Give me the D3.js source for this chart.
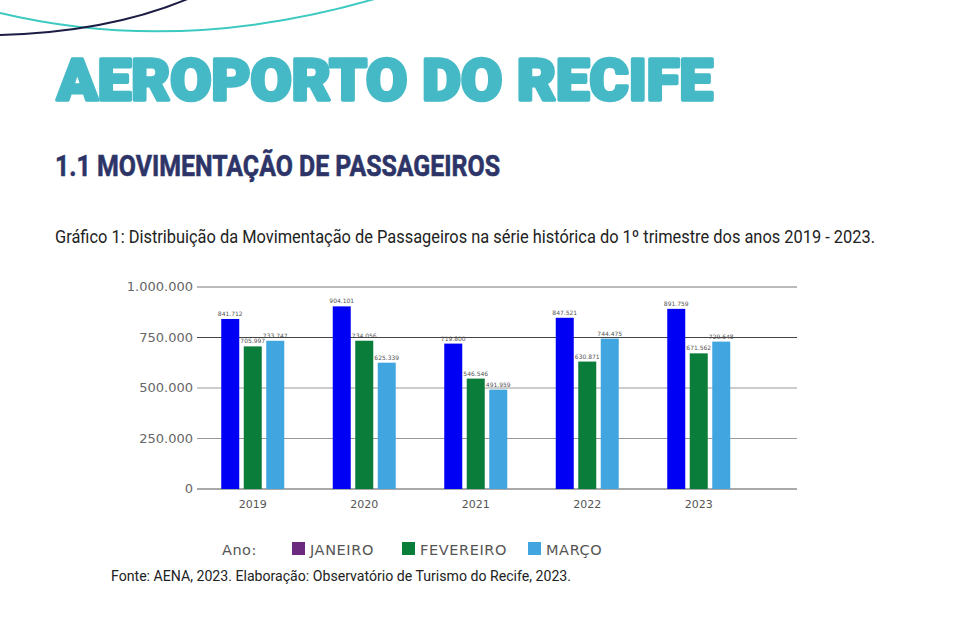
<script src="https://d3js.org/d3.v7.min.js"></script>
<style>
    body { background: #fff; margin: 0; }
    svg { display: block; }
</style>

<svg width="978" height="628"></svg>

<script>
    const years = ["2019", "2020", "2021", "2022", "2023"];
    const months = ["JANEIRO", "FEVEREIRO", "MARÇO"];
    const janeiro = [841712, 904101, 719800, 847521, 891759];
    const fevereiro = [705997, 734056, 546546, 630871, 671562];
    const marco = [733747, 625339, 491959, 744475, 729648];
    const yTicks = [0, 250000, 500000, 750000, 1000000];

    const barColors = ["#0000f5", "#0b7d3b", "#41a5e0"];
    const legendColors = ["#6b2a7d", "#0b7d3b", "#41a5e0"]; // legenda original usa roxo p/ janeiro
    const series = [janeiro, fevereiro, marco];

    const br = d3.formatLocale({ decimal: ",", thousands: ".", grouping: [3], currency: ["R$", ""] });
    const fmt = br.format(",.0f");

    const svg = d3.select("svg");
    svg.append("rect").attr("width", 978).attr("height", 628).attr("fill", "#fff");

    // linhas decorativas no topo
    svg.append("path").attr("d", "M0,13 Q180,56 378,-2")
        .attr("fill", "none").attr("stroke", "#3cc9c0").attr("stroke-width", 2);
    svg.append("path").attr("d", "M0,35 Q110,32 190,-2")
        .attr("fill", "none").attr("stroke", "#1c1c45").attr("stroke-width", 2);

    // titulos
    svg.append("text").attr("x", 57).attr("y", 100)
        .attr("font-family", "Roboto").attr("font-weight", 900).attr("font-size", 58)
        .attr("fill", "#45b9c6").attr("stroke", "#45b9c6").attr("stroke-width", 3.5)
        .attr("stroke-linejoin", "round")
        .attr("textLength", 656).attr("lengthAdjust", "spacingAndGlyphs")
        .text("AEROPORTO DO RECIFE");
    svg.append("text").attr("x", 55).attr("y", 176)
        .attr("font-family", "Roboto").attr("font-weight", 700).attr("font-size", 30)
        .attr("fill", "#2d3568").attr("stroke", "#2d3568").attr("stroke-width", 0.6)
        .attr("textLength", 445).attr("lengthAdjust", "spacingAndGlyphs")
        .text("1.1 MOVIMENTAÇÃO DE PASSAGEIROS");
    svg.append("text").attr("x", 55).attr("y", 243)
        .attr("font-family", "Roboto").attr("font-size", 18)
        .attr("fill", "#222").attr("textLength", 820).attr("lengthAdjust", "spacingAndGlyphs")
        .text("Gráfico 1: Distribuição da Movimentação de Passageiros na série histórica do 1º trimestre dos anos 2019 - 2023.");

    // escalas
    const x0 = d3.scaleBand().domain(years).range([197, 754.5]).paddingInner(0.435).paddingOuter(0.2175);
    const x1 = d3.scaleBand().domain(d3.range(3)).range([0, x0.bandwidth()]).paddingInner(0.2);
    const y = d3.scaleLinear().domain([0, 1000000]).range([489, 287]);

    // grade
    const gridColor = { 0: "#555", 250000: "#999", 500000: "#999", 750000: "#444", 1000000: "#777" };
    svg.append("g").selectAll("line").data(yTicks).enter().append("line")
        .attr("x1", 197).attr("x2", 797)
        .attr("y1", d => y(d)).attr("y2", d => y(d))
        .attr("stroke", d => gridColor[d]).attr("stroke-width", 1.2);

    svg.append("g").selectAll("text").data(yTicks).enter().append("text")
        .attr("x", 193).attr("y", d => y(d) + 4)
        .attr("text-anchor", "end").attr("font-family", "DejaVu Sans").attr("font-size", 13)
        .attr("fill", "#666").text(d => fmt(d));

    // barras
    const groups = svg.append("g").selectAll("g").data(years).enter().append("g")
        .attr("transform", d => `translate(${x0(d)},0)`);

    groups.selectAll("rect")
        .data((d, i) => series.map((s, k) => ({ k, v: s[i] })))
        .enter().append("rect")
        .attr("x", d => x1(d.k)).attr("width", x1.bandwidth())
        .attr("y", d => y(d.v)).attr("height", d => y(0) - y(d.v))
        .attr("fill", d => barColors[d.k]);

    groups.selectAll("text.val")
        .data((d, i) => series.map((s, k) => ({ k, v: s[i] })))
        .enter().append("text").attr("class", "val")
        .attr("x", d => x1(d.k) + x1.bandwidth() / 2).attr("y", d => y(d.v) - 3)
        .attr("text-anchor", "middle").attr("font-family", "DejaVu Sans").attr("font-size", 6)
        .attr("fill", "#555").text(d => fmt(d.v));

    // eixo x
    svg.append("g").selectAll("text").data(years).enter().append("text")
        .attr("x", d => x0(d) + x0.bandwidth() / 2).attr("y", 508)
        .attr("text-anchor", "middle").attr("font-family", "DejaVu Sans").attr("font-size", 11)
        .attr("fill", "#555").text(d => d);

    // legenda
    const leg = svg.append("g").attr("font-family", "DejaVu Sans").attr("font-size", 14.5).attr("fill", "#555");
    leg.append("text").attr("x", 222).attr("y", 555).attr("letter-spacing", 0.5).text("Ano:");
    const legX = [292, 402, 528];
    months.forEach((m, i) => {
        leg.append("rect").attr("x", legX[i]).attr("y", 542).attr("width", 13).attr("height", 13)
            .attr("fill", legendColors[i]);
        leg.append("text").attr("x", legX[i] + 18).attr("y", 555).attr("letter-spacing", 0.6).text(m);
    });

    // fonte
    svg.append("text").attr("x", 111).attr("y", 581)
        .attr("font-family", "Roboto").attr("font-size", 15)
        .attr("fill", "#222").attr("textLength", 460).attr("lengthAdjust", "spacingAndGlyphs")
        .text("Fonte: AENA, 2023.  Elaboração: Observatório de Turismo do Recife, 2023.");
</script>
